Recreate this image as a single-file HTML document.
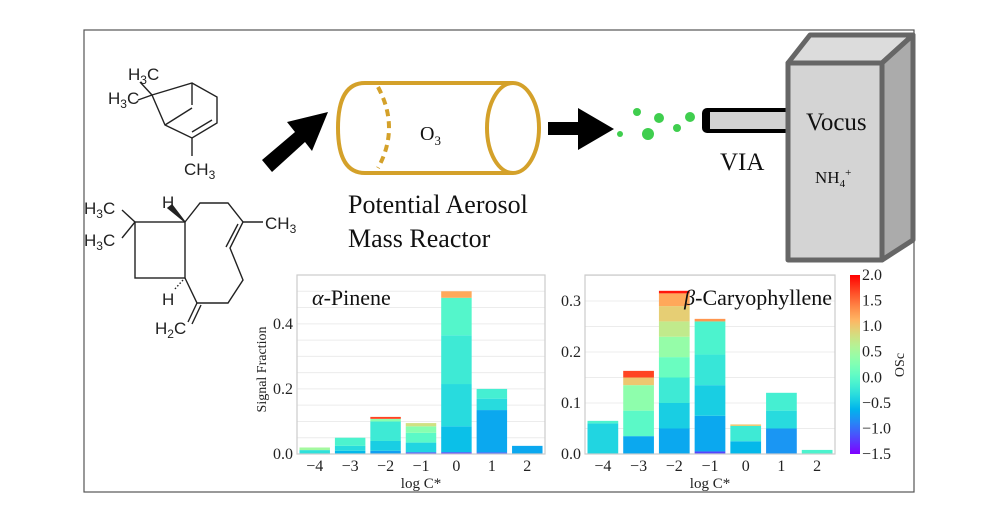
<!DOCTYPE html>
<html><head><meta charset="utf-8"><style>
body{margin:0;background:#fff;}
svg{display:block;}
.ser{font-family:"Liberation Serif",serif;}
.sans{font-family:"Liberation Sans",sans-serif;}
</style></head><body>
<svg id="s" width="1000" height="523" viewBox="0 0 1000 523" xmlns="http://www.w3.org/2000/svg">
<rect x="84" y="30" width="830" height="462" fill="none" stroke="#555" stroke-width="1.2"/>

<g stroke="#222" stroke-width="1.4" fill="none">
<polyline points="152,95 192,83 217,97 217,123 192,138 165,125 152,95"/>
<line x1="212" y1="120" x2="192" y2="132"/>
<line x1="192" y1="83" x2="192" y2="105"/>
<line x1="165" y1="125" x2="192" y2="108"/>
<line x1="192" y1="138" x2="192" y2="156"/>
<line x1="152" y1="95" x2="140" y2="82"/>
<line x1="152" y1="95" x2="138" y2="100"/>
</g>
<g class="sans" font-size="17" fill="#222">
<text x="128" y="80">H<tspan font-size="12" dy="4">3</tspan><tspan dy="-4">C</tspan></text>
<text x="108" y="104">H<tspan font-size="12" dy="4">3</tspan><tspan dy="-4">C</tspan></text>
<text x="184" y="175">CH<tspan font-size="12" dy="4">3</tspan></text>
</g>

<g stroke="#222" stroke-width="1.4" fill="none">
<rect x="135" y="222" width="50" height="56"/>
<polyline points="185,222 200,203 228,203 243,222 230,248 243,280 228,303 197,303 185,278"/>
<line x1="238" y1="224" x2="226" y2="247"/>
<line x1="243" y1="222" x2="263" y2="222"/>
<line x1="197" y1="303" x2="188" y2="322"/>
<line x1="201" y1="305" x2="192" y2="324"/>
<line x1="135" y1="222" x2="122" y2="210"/>
<line x1="135" y1="222" x2="122" y2="238"/>
<polygon points="185,222 168,208 172,205" fill="#222"/>
<line x1="183" y1="280" x2="174" y2="290" stroke-dasharray="1.5,2"/>
</g>
<g class="sans" font-size="17" fill="#222">
<text x="84" y="214">H<tspan font-size="12" dy="4">3</tspan><tspan dy="-4">C</tspan></text>
<text x="84" y="246">H<tspan font-size="12" dy="4">3</tspan><tspan dy="-4">C</tspan></text>
<text x="162" y="208">H</text>
<text x="162" y="305">H</text>
<text x="265" y="229">CH<tspan font-size="12" dy="4">3</tspan></text>
<text x="155" y="334">H<tspan font-size="12" dy="4">2</tspan><tspan dy="-4">C</tspan></text>
</g>

<polygon fill="#000" points="262,160 295,132 287,122 328,112 312,151 305,142 272,172"/>

<g fill="none" stroke="#d4a12a" stroke-width="4">
<path d="M513,83 L365,83 Q338,83 338,128 Q338,173 365,173 L513,173"/>
<ellipse cx="513" cy="128" rx="26" ry="45"/>
<path d="M378,87 Q400,128 378,168" stroke-dasharray="7,5"/>
</g>
<text class="ser" x="420" y="140" font-size="20" fill="#111">O<tspan font-size="13" dy="5">3</tspan></text>
<text class="ser" x="348" y="213" font-size="26" fill="#111">Potential Aerosol</text>
<text class="ser" x="348" y="247" font-size="26" fill="#111">Mass Reactor</text>

<polygon fill="#000" points="548,122 578,122 578,108 614,129 578,150 578,135 548,135"/>
<g fill="#3fce4e">
<circle cx="637" cy="112" r="4"/><circle cx="659" cy="118" r="5"/><circle cx="620" cy="134" r="3"/>
<circle cx="648" cy="134" r="6"/><circle cx="677" cy="128" r="4"/><circle cx="690" cy="117" r="5"/>
</g>
<g>
<rect x="702" y="108" width="90" height="25" rx="5" fill="#000"/>
<rect x="710" y="112" width="80" height="17" fill="#d3d3d3"/>
</g>
<text class="ser" x="720" y="170" font-size="25" fill="#111">VIA</text>

<g stroke="#666" stroke-width="5" stroke-linejoin="round">
<polygon points="788,63 810,35 913,35 882,63" fill="#dcdcdc"/>
<polygon points="882,63 913,35 913,240 882,260" fill="#ababab"/>
<rect x="788" y="63" width="94" height="197" fill="#d4d4d4"/>
</g>
<text class="ser" x="806" y="130" font-size="25" fill="#111">Vocus</text>
<text class="ser" x="815" y="183" font-size="17" fill="#111">NH<tspan font-size="11" dy="4">4</tspan><tspan font-size="11" dy="-11">+</tspan></text>

<g id="c1"></g><g id="c2"></g><g id="cb"></g>
</svg>
<script>
const categories = [-4,-3,-2,-1,0,1,2];
// stacked segments per bar: [fraction, OSc]
const pineneSegs = [
 [[0.012,-0.3],[0.008,0.5]],
 [[0.01,-0.6],[0.015,-0.35],[0.025,-0.1]],
 [[0.01,-0.75],[0.03,-0.45],[0.06,-0.2],[0.008,0.3],[0.006,1.7]],
 [[0.005,-1.2],[0.03,-0.4],[0.03,0.0],[0.02,0.3],[0.01,0.8]],
 [[0.005,-1.3],[0.08,-0.55],[0.13,-0.35],[0.15,-0.2],[0.115,-0.05],[0.02,1.2]],
 [[0.005,-1.1],[0.13,-0.7],[0.035,-0.35],[0.03,-0.15]],
 [[0.025,-0.7]]
];
const caryoSegs = [
 [[0.06,-0.4],[0.005,-0.1]],
 [[0.035,-0.7],[0.05,0.0],[0.05,0.35],[0.015,1.0],[0.013,1.7]],
 [[0.05,-0.7],[0.05,-0.45],[0.05,-0.2],[0.04,0.1],[0.04,0.4],[0.03,0.7],[0.03,0.95],[0.025,1.2],[0.005,1.9]],
 [[0.005,-1.2],[0.07,-0.7],[0.06,-0.45],[0.06,-0.25],[0.065,-0.1],[0.005,1.3]],
 [[0.025,-0.6],[0.03,-0.2],[0.003,1.0]],
 [[0.05,-0.8],[0.035,-0.35],[0.035,-0.15]],
 [[0.008,-0.1]]
];
const pineneTicks = [0.0,0.2,0.4];
const caryoTicks = [0.0,0.1,0.2,0.3];
const cbTicks = [-1.5,-1.0,-0.5,0.0,0.5,1.0,1.5,2.0];
const oscMin=-1.5, oscMax=2.0;

const NS="http://www.w3.org/2000/svg";
function mk(tag,attrs,parent){const e=document.createElementNS(NS,tag);for(const k in attrs)e.setAttribute(k,attrs[k]);parent.appendChild(e);return e;}
function rainbow(v){let x=(v-oscMin)/(oscMax-oscMin);x=Math.max(0,Math.min(1,x));
 const r=Math.min(1,Math.abs(2*x-0.5)),g=Math.sin(Math.PI*x),b=Math.cos(Math.PI*x/2);
 return `rgb(${Math.round(r*255)},${Math.round(g*255)},${Math.round(b*255)})`;}
function fmt(v,d){return (v<0?'\u2212':'')+Math.abs(v).toFixed(d);}

function chart(g,x0,x1,y0,y1,ymax,ticks,minor,segs,title,titleRight,name,showYLabel){
 const yS=v=>y0-(v/ymax)*(y0-y1);
 const bw=(x1-x0)/categories.length;
 const xS=i=>x0+bw*(i+0.5);
 for(let v=0;v<=ymax+1e-9;v+=minor){const l=mk('line',{x1:x0,x2:x1,y1:yS(v),y2:yS(v),stroke:'#ececec','stroke-width':1},g);
  
  }
 segs.forEach((bar,i)=>{let acc=0;bar.forEach(sg=>{
  const r=mk('rect',{x:xS(i)-bw*0.43,width:bw*0.86,y:yS(acc+sg[0]),height:yS(acc)-yS(acc+sg[0]),fill:rainbow(sg[1])},g);
  
  
  acc+=sg[0];});});
 const fr=mk('rect',{x:x0,y:y1,width:x1-x0,height:y0-y1,fill:'none',stroke:'#ccc','stroke-width':1.2},g);
 
 
 ticks.forEach(t=>{const tx=mk('text',{x:x0-4,y:yS(t)+5,'text-anchor':'end','font-size':16,fill:'#222',class:'ser'},g);tx.textContent=t.toFixed(1);
  
  });
 categories.forEach((c,i)=>{const tx=mk('text',{x:xS(i),y:471,'text-anchor':'middle','font-size':16,fill:'#222',class:'ser'},g);tx.textContent=fmt(c,0);
  
  });
 const xl=mk('text',{x:(x0+x1)/2,y:488,'text-anchor':'middle','font-size':15,fill:'#222',class:'ser'},g);xl.textContent='log C*';
 
 
 if(showYLabel){const yl=mk('text',{transform:`translate(266,${(y0+y1)/2+5}) rotate(-90)`,'text-anchor':'middle','font-size':14,fill:'#222',class:'ser'},g);yl.textContent='Signal Fraction';
  
  }
 const tt=mk('text',{x:titleRight?x1-3:x0+15,y:y1+30,'text-anchor':titleRight?'end':'start','font-size':22,fill:'#111',class:'ser'},g);
 tt.innerHTML=title;
 
 
}
chart(document.getElementById('c1'),297,545,454,275,0.55,pineneTicks,0.05,pineneSegs,'<tspan font-style="italic">α</tspan>-Pinene',false,'alpha-pinene-chart',true);
chart(document.getElementById('c2'),585,835,454,275,0.351,caryoTicks,0.05,caryoSegs,'<tspan font-style="italic">β</tspan>-Caryophyllene',true,'caryophyllene-chart',false);

const cb=document.getElementById('cb');
const defs=mk('defs',{},cb);
const lg=mk('linearGradient',{id:'rg',x1:0,y1:1,x2:0,y2:0},defs);
for(let i=0;i<=20;i++){mk('stop',{offset:i/20,'stop-color':rainbow(oscMin+(oscMax-oscMin)*i/20)},lg);}
const cbr=mk('rect',{x:850,y:275,width:10,height:179,fill:'url(#rg)'},cb);


cbTicks.forEach(t=>{const y=454-(t-oscMin)/(oscMax-oscMin)*179;
 const tx=mk('text',{x:862,y:y+5,'font-size':16,fill:'#222',class:'ser'},cb);tx.textContent=fmt(t,1);
 
 });
const ol=mk('text',{transform:'translate(904,365) rotate(-90)','text-anchor':'middle','font-size':14,fill:'#222',class:'ser'},cb);ol.textContent='OSc';


</script>
</body></html>
